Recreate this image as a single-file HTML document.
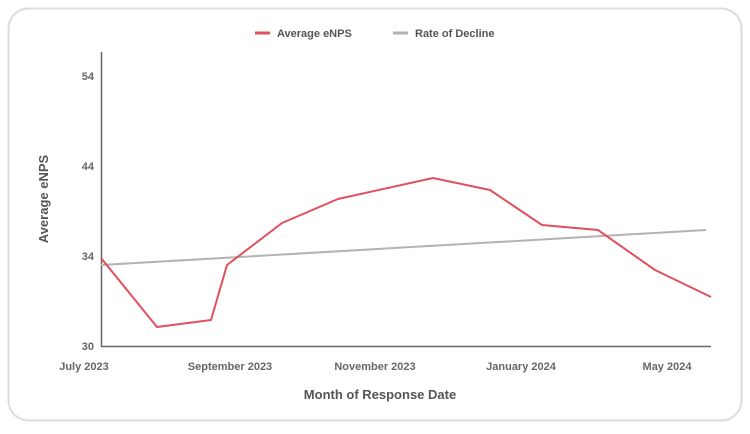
<!DOCTYPE html>
<html><head><style>
body{margin:0;background:#fff;width:750px;height:429px;overflow:hidden;font-family:"Liberation Sans",sans-serif}
</style></head><body>
<svg width="750" height="429" xmlns="http://www.w3.org/2000/svg" font-family="Liberation Sans, sans-serif">
<rect x="8.5" y="8.5" width="733" height="412" rx="20" fill="#fff" stroke="#dcdcd8" stroke-width="2"/>
<line x1="255" y1="33" x2="270" y2="33" stroke="#e0505e" stroke-width="3"/>
<text x="277" y="37" font-size="11" font-weight="bold" fill="#555">Average eNPS</text>
<line x1="393" y1="33" x2="408" y2="33" stroke="#b5b3b0" stroke-width="3"/>
<text x="415" y="37" font-size="11" font-weight="bold" fill="#555">Rate of Decline</text>
<g font-size="11" font-weight="bold" fill="#666" text-anchor="end">
<text x="94" y="80">54</text><text x="94" y="170">44</text><text x="94" y="260">34</text><text x="94" y="350">30</text>
</g>
<text transform="translate(48,199) rotate(-90)" text-anchor="middle" font-size="13" font-weight="bold" fill="#555">Average eNPS</text>
<g font-size="11" font-weight="bold" fill="#666" text-anchor="middle">
<text x="84" y="370">July 2023</text><text x="230" y="370">September 2023</text><text x="375" y="370">November 2023</text><text x="521" y="370">January 2024</text><text x="667" y="370">May 2024</text>
</g>
<text x="380" y="399" text-anchor="middle" font-size="13" font-weight="bold" fill="#555">Month of Response Date</text>
<path d="M101.5 52V346.5H711" fill="none" stroke="#666" stroke-width="1.5"/>
<line x1="101" y1="265" x2="706" y2="230" stroke="#b5b3b0" stroke-width="2"/>
<polyline points="101,258 157,327 211,320 227,265 282,223 338,199 433,178 490,190 542,225 598,230 655,270 711,297" fill="none" stroke="#e0505e" stroke-width="2" stroke-linejoin="round"/>
</svg>
</body></html>
